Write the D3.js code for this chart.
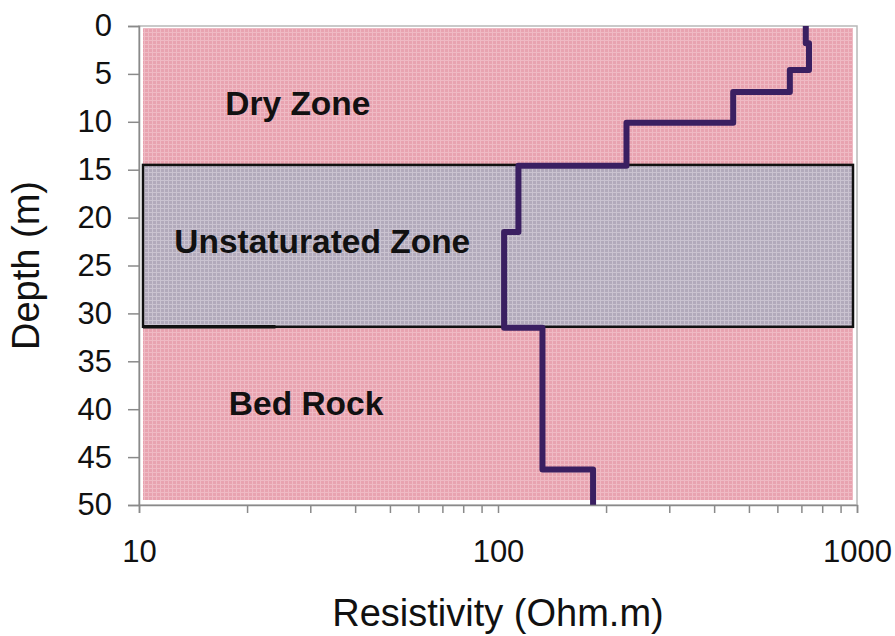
<!DOCTYPE html>
<html>
<head>
<meta charset="utf-8">
<script src="https://cdn.jsdelivr.net/npm/d3@7"></script>
<style>
  body { margin: 0; background: #ffffff; }
  svg { display: block; font-family: "Liberation Sans", Arial, sans-serif; }
</style>
</head>
<body>
<svg id="chart" width="895" height="636"></svg>
<script>
// Layered resistivity profile (depth in m, resistivity in Ohm.m)
const layerTops    = [0, 1.8, 4.6, 6.9, 10.1, 14.6, 21.5, 31.5, 46.3];
const layerBottoms = [1.8, 4.6, 6.9, 10.1, 14.6, 21.5, 31.5, 46.3, 50];
const resistivity  = [720, 735, 650, 452, 228, 114, 104, 133, 184];

// Axis ticks
const depthTicks = [0, 5, 10, 15, 20, 25, 30, 35, 40, 45, 50];
const resistivityTicks = [10, 20, 30, 40, 50, 60, 70, 80, 90,
                          100, 200, 300, 400, 500, 600, 700, 800, 900, 1000];
const resistivityLabels = [10, 100, 1000];

// Zone annotations
const zoneNames = ["Dry Zone", "Unstaturated Zone", "Bed Rock"];
const zoneLabelRes = [27.7, 32.4, 29.2];
const zoneLabelDepth = [9.3, 23.7, 40.6];
const unsaturatedTop = 14.5;
const unsaturatedBottom = 31.4;

const svg = d3.select("#chart");

const x = d3.scaleLog().domain([10, 1000]).range([139, 857]);
const y = d3.scaleLinear().domain([0, 50]).range([26, 505]);

// Fill patterns: fine grid texture over the plot area and the unsaturated band
const defs = svg.append("defs");
function gridPattern(id, base, line) {
  const p = defs.append("pattern")
    .attr("id", id).attr("patternUnits", "userSpaceOnUse")
    .attr("width", 4).attr("height", 4);
  p.append("rect").attr("width", 4).attr("height", 4).attr("fill", base);
  p.append("rect").attr("x", 0).attr("y", 0).attr("width", 4).attr("height", 1).attr("fill", line);
  p.append("rect").attr("x", 0).attr("y", 0).attr("width", 1).attr("height", 4).attr("fill", line);
}
gridPattern("pinkGrid", "#e8a3b0", "#efbac4");
gridPattern("greyGrid", "#b2aabb", "#cac3d0");

const left = x(10) + 4, right = x(1000) - 4;

// Plot frame
svg.append("rect")
  .attr("x", x(10)).attr("y", y(0))
  .attr("width", x(1000) - x(10)).attr("height", y(50) - y(0))
  .attr("fill", "#ffffff").attr("stroke", "#b8b8b8").attr("stroke-width", 1.5);

// Plot-area background
svg.append("rect")
  .attr("x", left).attr("y", y(0) + 2)
  .attr("width", right - left).attr("height", y(50) - 5 - (y(0) + 2))
  .attr("fill", "url(#pinkGrid)");

// Unsaturated zone band
svg.append("rect")
  .attr("x", left).attr("y", y(unsaturatedTop))
  .attr("width", right - left).attr("height", y(unsaturatedBottom) - y(unsaturatedTop))
  .attr("fill", "url(#greyGrid)")
  .attr("stroke", "#111111").attr("stroke-width", 2.5);

// Heavier stroke along the left part of the band's lower edge
svg.append("line")
  .attr("x1", left).attr("x2", x(24))
  .attr("y1", y(unsaturatedBottom)).attr("y2", y(unsaturatedBottom))
  .attr("stroke", "#111111").attr("stroke-width", 3.5);

// Zone labels
svg.append("g").selectAll("text")
  .data(zoneNames)
  .join("text")
  .attr("x", (d, i) => x(zoneLabelRes[i]))
  .attr("y", (d, i) => y(zoneLabelDepth[i]))
  .attr("text-anchor", "middle")
  .attr("font-weight", "bold")
  .attr("font-size", 33.5)
  .attr("fill", "#111111")
  .text(d => d);

// Stepped resistivity profile
const profile = [];
resistivity.forEach((r, i) => {
  profile.push([r, layerTops[i]]);
  profile.push([r, layerBottoms[i]]);
});
svg.append("path")
  .datum(profile)
  .attr("fill", "none")
  .attr("stroke", "#3a1f61")
  .attr("stroke-width", 6)
  .attr("stroke-linejoin", "round")
  .attr("d", d3.line().x(d => x(d[0])).y(d => y(d[1])));

// Axes
const yAxis = d3.axisLeft(y).tickValues(depthTicks).tickSize(11).tickPadding(16);
const gy = svg.append("g").attr("transform", `translate(${x(10)},0)`).call(yAxis);

const xAxis = d3.axisBottom(x).tickValues(resistivityTicks).tickSize(8).tickPadding(27)
  .tickFormat(d => resistivityLabels.includes(d) ? String(d) : "");
const gx = svg.append("g").attr("transform", `translate(0,${y(50)})`).call(xAxis);

[gx, gy].forEach(g => {
  g.select(".domain").attr("stroke", "#8a8a8a").attr("stroke-width", 1.5);
  g.selectAll(".tick line").attr("stroke", "#8a8a8a").attr("stroke-width", 1.5);
  g.selectAll(".tick text")
    .attr("font-family", "'Liberation Sans', Arial, sans-serif")
    .attr("font-size", 31).attr("fill", "#111111");
});

// Axis titles
svg.append("text")
  .attr("x", (x(10) + x(1000)) / 2).attr("y", 626)
  .attr("text-anchor", "middle").attr("font-size", 38).attr("fill", "#111111")
  .text("Resistivity (Ohm.m)");

svg.append("text")
  .attr("transform", `translate(39,${(y(0) + y(50)) / 2}) rotate(-90)`)
  .attr("text-anchor", "middle").attr("font-size", 38).attr("fill", "#111111")
  .text("Depth (m)");
</script>
</body>
</html>
